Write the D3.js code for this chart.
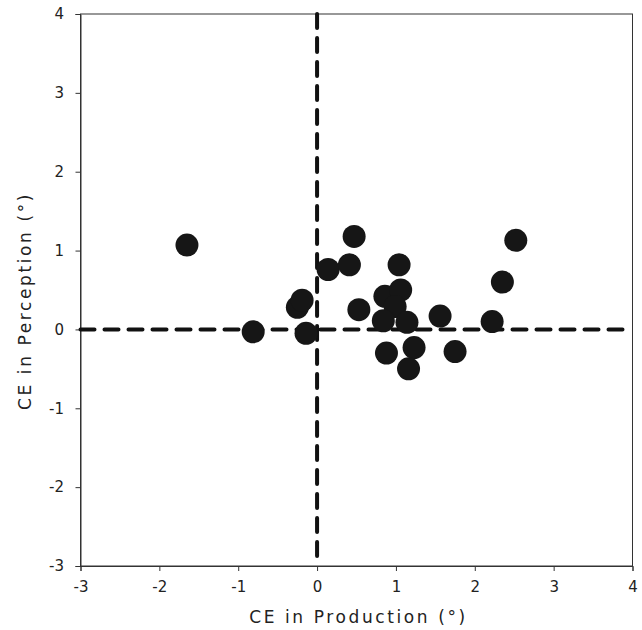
<!DOCTYPE html>
<html><head><meta charset="utf-8">
<script src="https://cdn.jsdelivr.net/npm/d3@7"></script>
<style>body{margin:0;background:#fff}svg{display:block}</style>
</head><body>
<svg id="c" width="642" height="630"></svg>
<script>
const xs = [-1.65,-0.81,-0.25,-0.19,-0.14,0.14,0.47,0.41,0.53,1.04,0.86,1.06,0.99,0.84,1.14,0.88,1.23,1.16,1.56,1.75,2.22,2.35,2.52];
const ys = [1.07,-0.03,0.28,0.37,-0.05,0.76,1.18,0.82,0.25,0.82,0.42,0.50,0.29,0.11,0.09,-0.30,-0.23,-0.50,0.17,-0.28,0.10,0.60,1.13];
const xTicks = [-3,-2,-1,0,1,2,3,4];
const yTicks = [-3,-2,-1,0,1,2,3,4];
const xTitle = "CE in Production (°)";
const yTitle = "CE in Perception (°)";

const svg = d3.select("#c");
const L = 80.5, R = 632.5, T = 14, B = 566;
const x = d3.scaleLinear().domain([-3,4]).range([L,R]);
const y = d3.scaleLinear().domain([-3,4]).range([B,T]);
const font = "DejaVu Sans, Verdana, sans-serif";

// frame
svg.append("rect").attr("x",L).attr("y",T).attr("width",R-L).attr("height",B-T)
  .attr("fill","none").attr("stroke","#333").attr("stroke-width",1);

const gx = svg.append("g").attr("transform",`translate(0,${B})`)
  .call(d3.axisBottom(x).tickValues(xTicks).tickSize(5).tickPadding(10.5).tickFormat(d=>String(d)));
const gy = svg.append("g").attr("transform",`translate(${L},0)`)
  .call(d3.axisLeft(y).tickValues(yTicks).tickSize(5).tickPadding(11.5).tickFormat(d=>String(d)));
[gx,gy].forEach(g=>{
  g.select(".domain").attr("stroke","#333");
  g.selectAll(".tick line").attr("stroke","#333");
  g.selectAll(".tick text").attr("font-family",font).attr("font-size",15).attr("fill","#222");
});

// dashed reference lines
svg.append("line").attr("x1",x(0)).attr("x2",x(0)).attr("y1",T).attr("y2",B)
  .attr("stroke","#111").attr("stroke-width",4).attr("stroke-dasharray","14,10").attr("stroke-linecap","round");
svg.append("line").attr("x1",L).attr("x2",R).attr("y1",y(0)).attr("y2",y(0))
  .attr("stroke","#111").attr("stroke-width",4).attr("stroke-dasharray","14,10").attr("stroke-linecap","round");

// points
svg.append("g").selectAll("circle").data(xs.map((v,i)=>[v,ys[i]])).join("circle")
  .attr("cx",d=>x(d[0])).attr("cy",d=>y(d[1])).attr("r",11.5).attr("fill","#161616");

// titles
svg.append("text").attr("x",(L+R)/2+2).attr("y",623).attr("text-anchor","middle")
  .attr("font-family",font).attr("font-size",17).attr("letter-spacing",2.6).attr("fill","#222").text(xTitle);
svg.append("text").attr("transform",`translate(31,301) rotate(-90)`).attr("text-anchor","middle")
  .attr("font-family",font).attr("font-size",17).attr("letter-spacing",2.6).attr("fill","#222").text(yTitle);
</script>
</body></html>
